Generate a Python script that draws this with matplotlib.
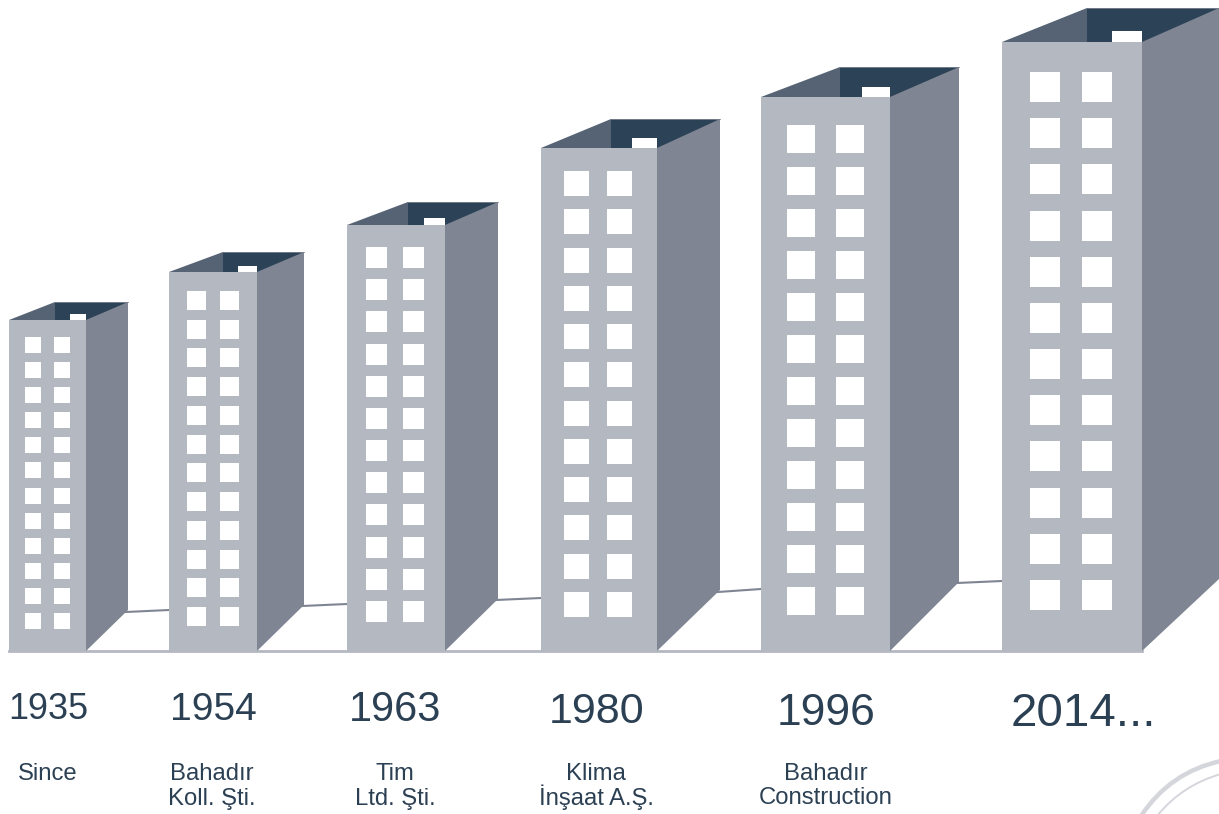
import numpy as np
import matplotlib
matplotlib.use('Agg')
import matplotlib.pyplot as plt
from matplotlib.patches import Polygon, Rectangle, PathPatch
from matplotlib.path import Path

plt.rcParams['font.family'] = ['Liberation Sans', 'DejaVu Sans']

years = ['1935', '1954', '1963', '1980', '1996', '2014...']
captions = ['Since', 'Bahadır\nKoll. Şti.', 'Tim\nLtd. Şti.', 'Klima\nİnşaat A.Ş.', 'Bahadır\nConstruction', '']
heights = [331, 379, 426, 503, 554, 609]
window_rows = 12

# layout in pixels
ground = 651
front_left = [9, 169, 347, 541, 761, 1002]
front_right = [86, 257, 445, 657, 890, 1142]
back_left = [55, 223, 408, 611, 840, 1087]
back_right = [128, 304, 498, 720, 959, 1219]
rise = [18, 20, 23, 29, 30, 34]
side_rise = [41, 46, 52, 61, 69, 72]
win_x1 = [25, 187, 366, 564, 787, 1030]
win_x2 = [54, 220, 403, 607, 836, 1082]
win_size = [16, 19, 21, 25, 28, 30]
win_first = [337, 291, 247, 171, 125, 72]
win_last = [613, 607, 601, 592, 587, 580]
roof_h = [6, 6, 7, 10, 10, 11]
year_x = [48, 213, 395, 597, 826, 1083]
year_y = [719, 720, 721, 723, 725, 726]
year_px = [36, 39, 41.5, 43, 44.5, 47.5]
caption_x = [48, 212, 395, 596, 826]
floor_left_y = [612, 606, 600, 592, 583]
floor_right_y = [610, 604, 598, 589, 581]

FRONT = '#b4b8c1'
SIDE = '#7f8593'
BACK = '#2c4257'
INNER = '#566375'
TEXT = '#2c4054'

fig = plt.figure(figsize=(12.19, 8.14), dpi=100)
ax = fig.add_axes([0, 0, 1, 1])
ax.set_xlim(0, 1219)
ax.set_ylim(814, 0)
ax.axis('off')

# back edge of the floor between the buildings
for i in range(5):
    ax.plot([back_right[i] - 2, front_left[i + 1]], [floor_left_y[i], floor_right_y[i]],
            color=SIDE, lw=1.5, zorder=1)
ax.plot([9, 1142], [ground, ground], color=FRONT, lw=2, zorder=1)

for i, h in enumerate(heights):
    top = ground - h
    back_top = top - rise[i]
    fl, fr, bl, br = front_left[i], front_right[i], back_left[i], back_right[i]

    ax.add_patch(Rectangle((bl, back_top), br - bl, rise[i], fc=BACK, ec='none', zorder=2))
    ax.add_patch(Polygon([(fl, top), (bl, back_top), (bl, top)], fc=INNER, ec='none', zorder=3))
    ax.plot([bl, br], [back_top, back_top], color=SIDE, lw=0.6, zorder=3)
    ax.add_patch(Rectangle((fr - win_size[i], top - roof_h[i]), win_size[i], roof_h[i], fc='white', ec='none', zorder=3))
    ax.add_patch(Polygon([(fr, top), (br, back_top), (br, ground - side_rise[i]), (fr, ground)],
                         fc=SIDE, ec='none', zorder=4))
    ax.add_patch(Rectangle((fl, top), fr - fl, h + 1, fc=FRONT, ec='none', zorder=5))

    for y in np.linspace(win_first[i], win_last[i], window_rows):
        for x in (win_x1[i], win_x2[i]):
            ax.add_patch(Rectangle((x, y), win_size[i], win_size[i], fc='white', ec='none', zorder=6))

    ax.text(year_x[i], year_y[i], years[i], color=TEXT, fontsize=year_px[i] * 0.72,
            ha='center', va='baseline')
    if captions[i]:
        # each line on its own baseline so that all captions line up
        for j, line in enumerate(captions[i].split('\n')):
            ax.text(caption_x[i], 779.5 + j * 25, line, color=TEXT, fontsize=17.2,
                    ha='center', va='baseline')

# swoosh in the bottom right corner
for p0, p1, p2, lw in [((1141, 816), (1170, 772), (1221, 761), 3.2),
                       ((1157, 816), (1182, 785), (1221, 774), 1.4)]:
    path = Path([p0, p1, p2], [Path.MOVETO, Path.CURVE3, Path.CURVE3])
    ax.add_patch(PathPatch(path, fc='none', ec='#d5d6dc', lw=lw, zorder=1))

fig.savefig('out.png', dpi=100)
